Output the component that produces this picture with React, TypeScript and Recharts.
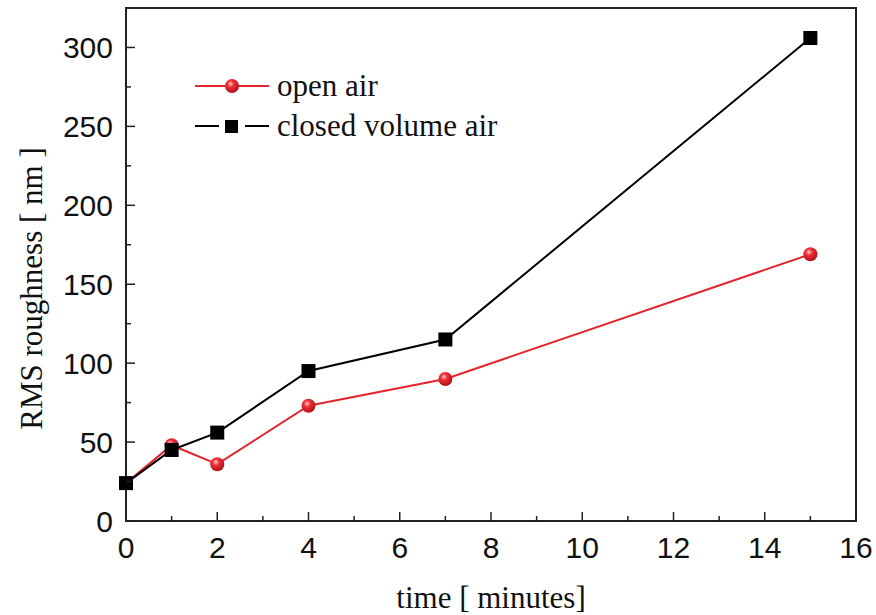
import { LineChart, Line, XAxis, YAxis, ReferenceArea } from "recharts";

const times = [0, 1, 2, 4, 7, 15];
const openAir = [24, 48, 36, 73, 90, 169];
const closedAir = [24, 45, 56, 95, 115, 306];
const xTicks = [0, 1, 2, 3, 4, 5, 6, 7, 8, 9, 10, 11, 12, 13, 14, 15, 16];
const yTicks = [0, 25, 50, 75, 100, 125, 150, 175, 200, 225, 250, 275, 300];
const seriesNames = ["open air", "closed volume air"];

const data = times.map((t, i) => ({ t, open: openAir[i], closed: closedAir[i] }));

const AXIS = "#222";
const RED = "#e3262d";
const tickFont = "'Liberation Sans', Arial, sans-serif";
const labelFont = "'Liberation Serif', 'Times New Roman', serif";

const XTick = (props: any) => {
  const { x, y, payload } = props;
  const major = payload.value % 2 === 0;
  return (
    <g>
      <line x1={x} x2={x} y1={y} y2={y - (major ? 9 : 5)} stroke={AXIS} strokeWidth={1.5} />
      {major && (
        <text x={x} y={y + 37} textAnchor="middle" fontSize={30} fontFamily={tickFont} fill="#111">
          {payload.value}
        </text>
      )}
    </g>
  );
};

const YTick = (props: any) => {
  const { x, y, payload } = props;
  const major = payload.value % 50 === 0;
  return (
    <g>
      <line x1={x} x2={x + (major ? 9 : 5)} y1={y} y2={y} stroke={AXIS} strokeWidth={1.5} />
      {major && (
        <text x={x - 13} y={y + 11} textAnchor="end" fontSize={30} fontFamily={tickFont} fill="#111">
          {payload.value}
        </text>
      )}
    </g>
  );
};

const SphereDot = (props: any) => {
  const { cx, cy, r = 7 } = props;
  if (cx == null || cy == null) return null;
  return (
    <g>
      <defs>
        <radialGradient id="sphereRed" cx="40%" cy="35%" r="65%">
          <stop offset="0%" stopColor="#ffd0d0" />
          <stop offset="35%" stopColor="#f03038" />
          <stop offset="100%" stopColor="#b01018" />
        </radialGradient>
      </defs>
      <circle cx={cx} cy={cy} r={r} fill="url(#sphereRed)" />
    </g>
  );
};

const SquareDot = (props: any) => {
  const { cx, cy } = props;
  if (cx == null || cy == null) return null;
  return <rect x={cx - 7} y={cy - 7} width={14} height={14} fill="#000" />;
};

const LegendBox = () => (
  <div style={{ fontFamily: labelFont, fontSize: 31, color: "#111", lineHeight: "40px" }}>
    <div style={{ display: "flex", alignItems: "center" }}>
      <svg width={76} height={20} style={{ marginRight: 6 }}>
        <line x1={0} x2={74} y1={10} y2={10} stroke={RED} strokeWidth={2} />
        <SphereDot cx={37} cy={10} r={7} />
      </svg>
      <span>{seriesNames[0]}</span>
    </div>
    <div style={{ display: "flex", alignItems: "center" }}>
      <svg width={76} height={20} style={{ marginRight: 6 }}>
        <line x1={0} x2={24} y1={10} y2={10} stroke="#000" strokeWidth={2} />
        <line x1={50} x2={74} y1={10} y2={10} stroke="#000" strokeWidth={2} />
        <rect x={30} y={4} width={13} height={13} fill="#000" />
      </svg>
      <span>{seriesNames[1]}</span>
    </div>
  </div>
);

export default function App() {
  return (
    <div style={{ position: "absolute", left: 0, top: 0, background: "#fff", width: 876, height: 615 }}>
      <LineChart width={876} height={615} data={data} margin={{ top: 8, right: 20, left: 0, bottom: 0 }}>
        <XAxis
          dataKey="t"
          type="number"
          domain={[0, 16]}
          ticks={xTicks}
          interval={0}
          height={94}
          tickLine={false}
          tickSize={0}
          tickMargin={0}
          tick={<XTick />}
          axisLine={{ stroke: AXIS, strokeWidth: 2 }}
          label={({ viewBox }: any) => (
            <text
              x={viewBox.x + viewBox.width / 2}
              y={viewBox.y + 87}
              textAnchor="middle"
              fontSize={31}
              fontFamily={labelFont}
              fill="#111"
            >
              time [ minutes]
            </text>
          )}
        />
        <YAxis
          type="number"
          domain={[0, 325]}
          ticks={yTicks}
          interval={0}
          width={126}
          tickLine={false}
          tickSize={0}
          tickMargin={0}
          tick={<YTick />}
          axisLine={{ stroke: AXIS, strokeWidth: 2 }}
          label={({ viewBox }: any) => {
            const cx = 42;
            const cy = viewBox.y + viewBox.height / 2 + 24;
            return (
              <text
                x={cx}
                y={cy}
                transform={`rotate(-90 ${cx} ${cy})`}
                textAnchor="middle"
                fontSize={31}
                fontFamily={labelFont}
                fill="#111"
              >
                RMS roughness [ nm ]
              </text>
            );
          }}
        />
        <ReferenceArea x1={0} x2={16} y1={0} y2={325} fill="none" stroke={AXIS} strokeWidth={2} ifOverflow="visible" />
        <Line
          dataKey="open"
          name={seriesNames[0]}
          stroke={RED}
          strokeWidth={2}
          dot={<SphereDot r={7} />}
          isAnimationActive={false}
        />
        <Line
          dataKey="closed"
          name={seriesNames[1]}
          stroke="#000"
          strokeWidth={2}
          dot={<SquareDot />}
          isAnimationActive={false}
        />
      </LineChart>
      <div style={{ position: "absolute", left: 195, top: 66 }}>
        <LegendBox />
      </div>
    </div>
  );
}
